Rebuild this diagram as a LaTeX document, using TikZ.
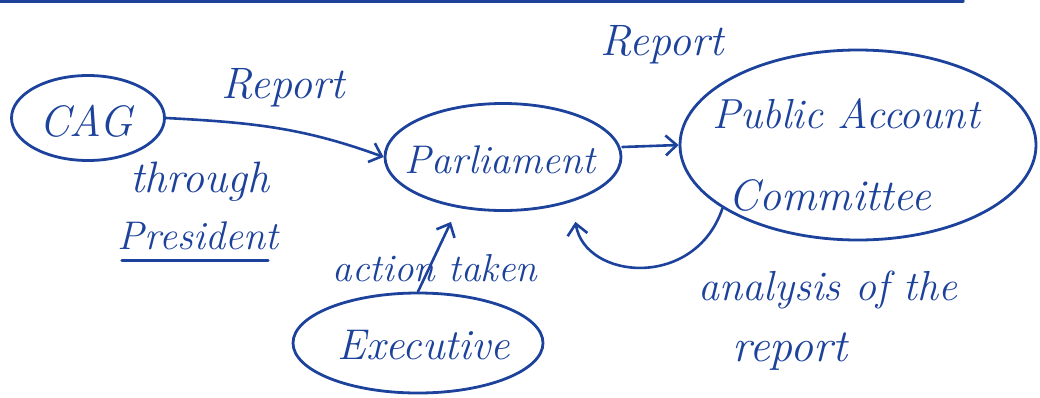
\documentclass[tikz,border=0pt]{standalone}
\usetikzlibrary{shapes.geometric,arrows.meta}
\definecolor{ink}{RGB}{28,66,155}
\begin{document}
\begin{tikzpicture}[x=1pt,y=-1pt,
  ovalnode/.style={ellipse,draw=ink,line width=2.8pt,inner sep=0pt},
  lbl/.style={text=ink,inner sep=0pt},
  hand/.style={font=\itshape\fontsize{#1}{#1}\selectfont},
  conn/.style={draw=ink,line width=2.6pt,line cap=round,-{Straight Barb[length=11pt,width=20pt,line width=2.6pt]}},
  plain/.style={draw=ink,line width=2.6pt,line cap=round}]
\useasboundingbox (0,0) rectangle (1040,397);
% top rule
\coordinate (tl) at (0,1);
\coordinate (tr) at (963,1);
\draw[plain,line width=3.2pt] (tl) -- (tr);
% ovals
\node[ovalnode,minimum width=153pt,minimum height=85pt] (cag) at (88,118) {};
\node[ovalnode,minimum width=236pt,minimum height=107pt] (parl) at (503,157) {};
\node[ovalnode,minimum width=356pt,minimum height=190pt] (pac) at (858,145) {};
\node[ovalnode,minimum width=250pt,minimum height=100pt] (exec) at (418,343) {};
% texts in ovals
\node[lbl,hand=44] (cagt) at (86,121) {CAG};
\node[lbl,hand=40] (parlt) at (500,160) {Parliament};
\node[lbl,hand=42] (pact1) at (846,114) {Public Account};
\node[lbl,hand=44] (pact2) at (830,195) {Committee};
\node[lbl,hand=43] (exect) at (424,345) {Executive};
% labels
\node[lbl,hand=44] (rep1) at (283,88) {Report};
\node[lbl,hand=44] (rep2) at (662,45) {Report};
\node[lbl,hand=44] (thr) at (200,182) {through};
\node[lbl,hand=40] (pres) at (198,236) {President};
\node[lbl,hand=39] (act) at (435,268) {action taken};
\node[lbl,hand=42] (ana) at (828,290) {analysis of the};
\node[lbl,hand=46] (rep3) at (790,352) {report};
\draw[plain] ([xshift=4pt,yshift=-10pt]pres.south west) -- ([xshift=-10pt,yshift=-10pt]pres.south east);
% connectors
\draw[conn] (cag.east) to[out=-3,in=160] (parl.west);
\draw[conn] ([yshift=10pt]parl.east) -- (pac.west);
\draw[conn] (pac.205) .. controls (695,290) and (585,280) .. ([xshift=-12pt,yshift=-26pt]parl.south east);
\draw[conn] (exec.north) -- ([xshift=-52pt,yshift=-10pt]parl.south);
\end{tikzpicture}
\end{document}
